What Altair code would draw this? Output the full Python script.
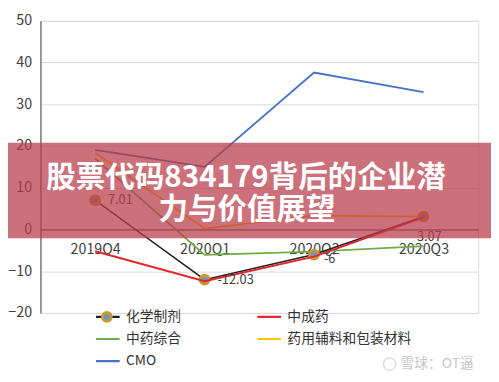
import altair as alt
import pandas as pd

# ---------------- data ----------------
quarters = ["2019Q4", "2020Q1", "2020Q2", "2020Q3"]
series_names = ["化学制剂", "中药综合", "CMO", "中成药", "药用辅料和包装材料"]
chem = [7.01, -12.03, -6.0, 3.07]
tcm_patent = [-5.2, -12.4, -6.5, 2.9]
tcm_general = [17.0, -6.1, -5.3, -4.0]
excipient = [18.4, 0.2, 3.3, 3.1]
cmo = [19.1, 15.0, 37.6, 32.9]
series_colors = ["#1f1f1f", "#70ad47", "#4472c4", "#e3262b", "#ffc000"]
chem_labels = ["7.01", "-12.03", "-6", "3.07"]
y_ticks = [-20, -10, 0, 10, 20, 30, 40, 50]
banner_lines = ["股票代码834179背后的企业潜", "力与价值展望"]
watermark = "雪球：OT逼"

FONT = "Noto Sans CJK SC"

values_by_series = {
    "化学制剂": chem,
    "中成药": tcm_patent,
    "中药综合": tcm_general,
    "药用辅料和包装材料": excipient,
    "CMO": cmo,
}
rows = []
for s in series_names:
    for q, v in zip(quarters, values_by_series[s]):
        rows.append({"series": s, "quarter": q, "value": v})
df = pd.DataFrame(rows)
chem_df = pd.DataFrame({"quarter": quarters, "value": chem, "label": chem_labels,
                        "series": ["化学制剂"] * 4})
one = pd.DataFrame({"k": [0]})

# ---------------- scales / axes ----------------
xscale = alt.Scale(type="point", domain=quarters, padding=0.5)
yscale = alt.Scale(domain=[-20, 50], nice=False, zero=False)
xaxis = alt.Axis(orient="bottom", offset=-84.86, labelAngle=0, labelFontSize=14.5,
                 labelFont=FONT, labelColor="#404040", ticks=False, grid=False,
                 domainColor="#404040", domainWidth=1, labelPadding=13, title=None)
yaxis = alt.Axis(values=y_ticks, labelFontSize=14.5, labelFont=FONT, labelColor="#404040",
                 ticks=False, domainColor="#404040", domainWidth=1, gridColor="#d9d9d9",
                 gridWidth=1, labelPadding=9, title=None)
color_scale = alt.Scale(domain=series_names, range=series_colors)
color_legend = alt.Legend(orient="none", legendX=55, legendY=291, columns=2,
                          columnPadding=76, rowPadding=2.5, symbolType="stroke",
                          symbolSize=576, symbolStrokeWidth=2.2, clipHeight=20,
                          labelOffset=5, labelFontSize=14, labelFont=FONT,
                          labelColor="#333333", title=None, padding=0)
marker_legend = alt.Legend(orient="none", legendX=61.5, legendY=294, symbolType="circle",
                           symbolSize=80, symbolStrokeWidth=3, clipHeight=14,
                           labelExpr="''", labelFontSize=1, title=None, padding=0)

X = alt.X("quarter:N", scale=xscale, axis=xaxis, sort=quarters)
Y = alt.Y("value:Q", scale=yscale, axis=yaxis)


def line_layer(name, width):
    return alt.Chart(df).transform_filter(alt.datum.series == name).mark_line(
        strokeWidth=width).encode(
        x=X, y=Y, color=alt.Color("series:N", scale=color_scale, legend=color_legend))


points = alt.Chart(chem_df).mark_point(filled=True, size=80, strokeWidth=3, opacity=1).encode(
    x=X, y=Y,
    fill=alt.Fill("series:N", scale=alt.Scale(domain=["化学制剂"], range=["#6f93c9"]),
                  legend=marker_legend),
    stroke=alt.Stroke("series:N", scale=alt.Scale(domain=["化学制剂"], range=["#c8992e"]),
                      legend=marker_legend),
)

lab_style = dict(fontSize=13, font=FONT, color="#404040", baseline="middle")
labels_right = alt.Chart(chem_df).transform_filter(
    alt.FieldOneOfPredicate(field="quarter", oneOf=quarters[:2])).mark_text(
    align="left", dx=13, **lab_style).encode(x=X, y=Y, text="label:N")
labels_q2 = alt.Chart(chem_df).transform_filter(alt.datum.quarter == quarters[2]).mark_text(
    align="left", dx=10, dy=5, **lab_style).encode(x=X, y=Y, text="label:N")
labels_q3 = alt.Chart(chem_df).transform_filter(alt.datum.quarter == quarters[3]).mark_text(
    align="center", dx=6, dy=21, **lab_style).encode(x=X, y=Y, text="label:N")

banner_rect = alt.Chart(one).mark_rect(color="#b83a48", opacity=0.72).encode(
    x=alt.value(-33), x2=alt.value(458), y=alt.value(124), y2=alt.value(221))
banner_t1 = alt.Chart(one).mark_text(
    text=banner_lines[0], font=FONT, fontSize=30, fontWeight="bold", color="white",
    align="center", baseline="middle").encode(x=alt.value(209), y=alt.value(160))
banner_t2 = alt.Chart(one).mark_text(
    text=banner_lines[1], font=FONT, fontSize=30, fontWeight="bold", color="white",
    align="center", baseline="middle").encode(x=alt.value(210), y=alt.value(192))

wm_logo = alt.Chart(one).mark_point(shape="circle", size=160, strokeWidth=1.5,
                                    color="#cfcfcf").encode(x=alt.value(355), y=alt.value(349))
wm_text = alt.Chart(one).mark_text(text=watermark, font=FONT, fontSize=14, color="#c8c8c8",
                                   align="left", baseline="middle").encode(
    x=alt.value(366), y=alt.value(349))

chart = alt.layer(
    line_layer("CMO", 1.8),
    line_layer("中药综合", 1.8),
    line_layer("药用辅料和包装材料", 1.8),
    line_layer("化学制剂", 1.5),
    points,
    line_layer("中成药", 2.0),
    labels_right, labels_q2, labels_q3,
    banner_rect, banner_t1, banner_t2,
    wm_logo, wm_text,
).properties(
    width=445, height=297,
    padding={"left": 33, "top": 10, "right": 13, "bottom": 58},
    autosize=alt.AutoSizeParams(type="none"),
).configure_view(strokeWidth=0).configure(background="white")

chart.save("out.html", embed_options={"renderer": "svg", "actions": False})
